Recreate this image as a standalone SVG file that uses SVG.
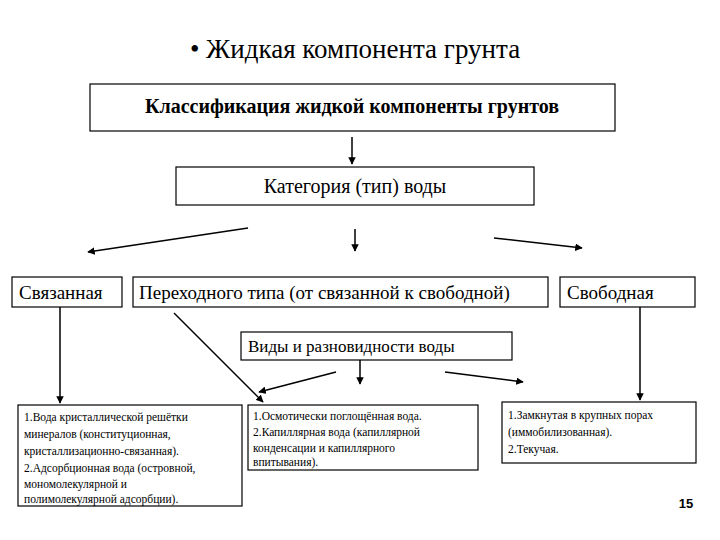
<svg xmlns="http://www.w3.org/2000/svg" width="720" height="540" viewBox="0 0 720 540">
<style>
.b{fill:#fff;stroke:#000;stroke-width:1.2}
.c line{stroke:#000;stroke-width:1.5;marker-end:url(#a)}
</style>
<defs><marker id="a" viewBox="0 0 10 10" refX="9" refY="5" markerWidth="5" markerHeight="5" orient="auto"><path d="M0,0L10,5L0,10z"/></marker></defs>
<rect width="720" height="540" fill="#fff"/>
<g font-family="'Liberation Serif', 'DejaVu Serif', serif" fill="#000">
<text x="355" y="58" font-size="27" text-anchor="middle">• Жидкая компонента грунта</text>
<g id="n1"><rect class="b" x="90" y="84" width="525" height="47"/><text x="352" y="113" font-size="20" font-weight="bold" text-anchor="middle">Классификация жидкой компоненты грунтов</text></g>
<g id="n2"><rect class="b" x="176" y="167" width="358" height="38"/><text x="355" y="193" font-size="20" text-anchor="middle">Категория (тип) воды</text></g>
<g id="n3"><rect class="b" x="12" y="277" width="110" height="30"/><text x="19" y="299" font-size="19">Связанная</text></g>
<g id="n4"><rect class="b" x="133" y="277" width="415" height="30"/><text x="139" y="299" font-size="19">Переходного типа (от связанной к свободной)</text></g>
<g id="n5"><rect class="b" x="560" y="277" width="135" height="30"/><text x="567" y="299" font-size="19">Свободная</text></g>
<g id="n6"><rect class="b" x="241" y="332" width="271" height="28"/><text x="248" y="352" font-size="17">Виды и разновидности воды</text></g>
<g id="n7"><rect class="b" x="18" y="405" width="224" height="101"/><text font-size="11.5"><tspan x="24" y="421">1.Вода кристаллической решётки</tspan><tspan x="24" y="438">минералов (конституционная,</tspan><tspan x="24" y="455">кристаллизационно-связанная).</tspan><tspan x="24" y="472">2.Адсорбционная вода (островной,</tspan><tspan x="24" y="488">мономолекулярной и</tspan><tspan x="24" y="503">полимолекулярной адсорбции).</tspan></text></g>
<g id="n8"><rect class="b" x="248" y="405" width="230" height="65"/><text font-size="11.5"><tspan x="253" y="420">1.Осмотически поглощённая вода.</tspan><tspan x="253" y="436">2.Капиллярная вода (капиллярной</tspan><tspan x="253" y="452">конденсации и капиллярного</tspan><tspan x="253" y="466">впитывания).</tspan></text></g>
<g id="n9"><rect class="b" x="502" y="402" width="194" height="61"/><text font-size="11.5"><tspan x="508" y="419">1.Замкнутая в крупных порах</tspan><tspan x="508" y="436">(иммобилизованная).</tspan><tspan x="508" y="453">2.Текучая.</tspan></text></g>
</g>
<text x="686" y="508" font-family="Liberation Sans, Arial, sans-serif" font-size="13" font-weight="bold" text-anchor="middle">15</text>
<g class="c">
<line x1="352" y1="137" x2="352" y2="164"/>
<line x1="248" y1="228" x2="88" y2="252"/>
<line x1="355" y1="229" x2="355" y2="251"/>
<line x1="494" y1="238" x2="582" y2="248"/>
<line x1="60" y1="307" x2="60" y2="403"/>
<line x1="640" y1="307" x2="640" y2="400"/>
<line x1="174" y1="313" x2="263" y2="402"/>
<line x1="336" y1="372" x2="259" y2="392"/>
<line x1="360" y1="360" x2="360" y2="384"/>
<line x1="445" y1="372" x2="523" y2="382"/>
</g>
</svg>
